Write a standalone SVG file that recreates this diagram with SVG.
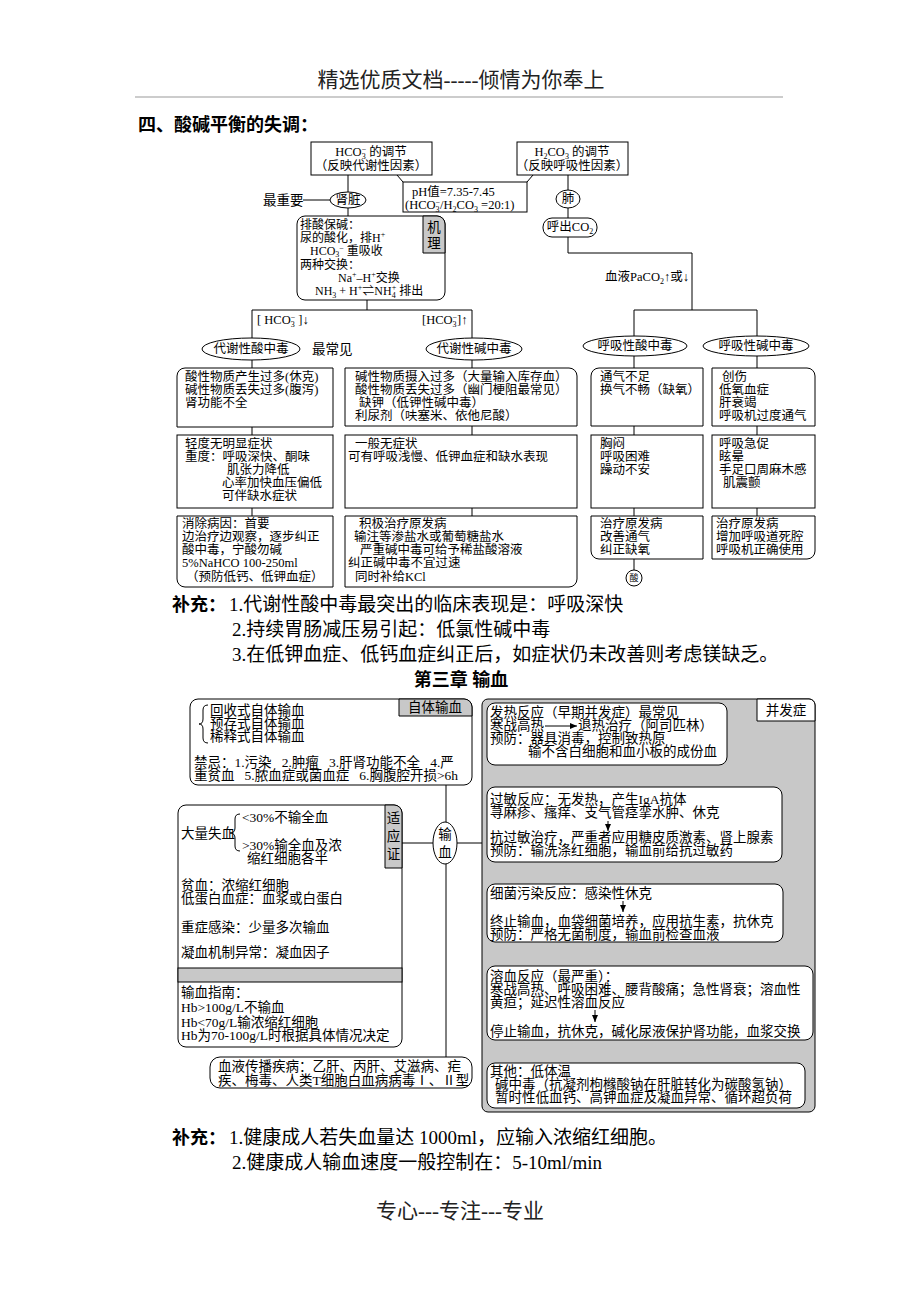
<svg xmlns="http://www.w3.org/2000/svg" width="920" height="1302" viewBox="0 0 920 1302">
<style>
text{font-family:"Liberation Serif","Noto Sans CJK SC",serif;fill:#000}
.t{font-size:12.5px}
.k{font-size:12px}
.m{font-size:13.5px}
.c{text-anchor:middle}
.s{font-size:8px}
.bx{fill:#fff;stroke:#000;stroke-width:1}
.g{fill:#c8c8c8;stroke:#000;stroke-width:1}
.ln{stroke:#000;stroke-width:1;fill:none}
.big{font-size:18px}
.sup{font-size:19px}
</style>
<defs>
<marker id="ah" markerWidth="8" markerHeight="8" refX="7" refY="4" orient="auto" markerUnits="userSpaceOnUse">
<path d="M0,1 L7,4 L0,7 Z" fill="#000"/>
</marker>
</defs>
<rect width="920" height="1302" fill="#fff"/>
<g id="header">
<text x="461" y="87" class="c" font-size="21" style="fill:#222">精选优质文档-----倾情为你奉上</text>
<line x1="135" y1="97" x2="783" y2="97" stroke="#999" stroke-width="1"/>
<text x="138" y="131" class="big" font-weight="bold">四、酸碱平衡的失调：</text>
</g>
<g id="connectors">
<line class="ln" x1="397" y1="175" x2="403" y2="182"/>
<line class="ln" x1="533" y1="175" x2="527" y2="182"/>
<line class="ln" x1="348" y1="175" x2="348" y2="192"/>
<line class="ln" x1="303" y1="200" x2="330" y2="200"/>
<line class="ln" x1="348" y1="208" x2="348" y2="216"/>
<line class="ln" x1="367" y1="300" x2="367" y2="310"/>
<path class="ln" d="M252,338 V310 H472 V338"/>
<line class="ln" x1="252" y1="360" x2="252" y2="368"/>
<line class="ln" x1="252" y1="427" x2="252" y2="435"/>
<line class="ln" x1="252" y1="508" x2="252" y2="516"/>
<line class="ln" x1="472" y1="360" x2="472" y2="368"/>
<line class="ln" x1="472" y1="426" x2="472" y2="435"/>
<line class="ln" x1="472" y1="508" x2="472" y2="516"/>
<line class="ln" x1="568" y1="175" x2="568" y2="190"/>
<line class="ln" x1="568" y1="208" x2="568" y2="218"/>
<path class="ln" d="M568,237 V253 H692 V310"/>
<path class="ln" d="M634,336 V310 H757 V336"/>
<line class="ln" x1="634" y1="356" x2="634" y2="368"/>
<line class="ln" x1="634" y1="426" x2="634" y2="435"/>
<line class="ln" x1="634" y1="508" x2="634" y2="516"/>
<line class="ln" x1="634" y1="559" x2="634" y2="570"/>
<line class="ln" x1="757" y1="356" x2="757" y2="368"/>
<line class="ln" x1="757" y1="426" x2="757" y2="435"/>
<line class="ln" x1="757" y1="508" x2="757" y2="516"/>
<line class="ln" x1="446" y1="785" x2="446" y2="822"/>
<line class="ln" x1="446" y1="864" x2="446" y2="1057"/>
<line class="ln" x1="402" y1="843" x2="433" y2="843"/>
<line class="ln" x1="457" y1="843" x2="482" y2="843"/>
</g>
<g id="hco3-reg">
<rect class="bx" x="311" y="142" width="121" height="33"/>
<text x="371" y="156" class="t c">HCO<tspan class="s" dy="3">3</tspan><tspan class="s" dx="-4" dy="-7">−</tspan><tspan dy="4"> 的调节</tspan></text>
<text x="371" y="170" class="t c">（反映代谢性因素）</text>
</g>
<g id="h2co3-reg">
<rect class="bx" x="517" y="142" width="111" height="33"/>
<text x="572" y="156" class="t c">H<tspan class="s" dy="3">2</tspan><tspan dy="-3">CO</tspan><tspan class="s" dy="3">3</tspan><tspan dy="-3"> 的调节</tspan></text>
<text x="572" y="170" class="t c">（反映呼吸性因素）</text>
</g>
<g id="ph">
<rect class="bx" x="403" y="182" width="124" height="30"/>
<text x="412" y="196" class="t">pH值=7.35-7.45</text>
<text x="405" y="209" class="t">(HCO<tspan class="s" dy="3">3</tspan><tspan class="s" dx="-4" dy="-7">−</tspan><tspan dy="4">/H</tspan><tspan class="s" dy="3">2</tspan><tspan dy="-3">CO</tspan><tspan class="s" dy="3">3</tspan><tspan dy="-3"> =20:1)</tspan></text>
</g>
<g id="kidney">
<text x="263" y="205" class="m">最重要</text>
<ellipse class="bx" cx="348" cy="200" rx="18" ry="8"/>
<text x="348" y="204" class="t c">肾脏</text>
</g>
<g id="mechanism">
<rect class="bx" x="297" y="216" width="148" height="84" rx="8"/>
<path class="g" d="M423,216 H437 A8,8 0 0 1 445,224 V253 H423 Z"/>
<text x="434" y="232" class="m c">机</text>
<text x="434" y="248" class="m c">理</text>
<text x="300" y="229" class="k">排酸保碱：</text>
<text x="300" y="242" class="k">尿的酸化，排H<tspan class="s" dy="-5">+</tspan></text>
<text x="310" y="255" class="k">HCO<tspan class="s" dy="2">3</tspan><tspan class="s" dx="0" dy="-6">−</tspan><tspan dy="4"> 重吸收</tspan></text>
<text x="300" y="269" class="k">两种交换：</text>
<text x="338" y="282" class="k">Na<tspan class="s" dy="-5">+</tspan><tspan dy="5">–H</tspan><tspan class="s" dy="-5">+</tspan><tspan dy="5">交换</tspan></text>
<text x="315" y="295" class="k">NH<tspan class="s" dy="3">3</tspan><tspan dy="-3"> + H</tspan><tspan class="s" dy="-5">+</tspan><tspan dy="5">⇌NH</tspan><tspan class="s" dy="3">4</tspan><tspan class="s" dx="-4" dy="-8">+</tspan><tspan dy="5">  排出</tspan></text>
</g>
<g id="labels-top">
<text x="257" y="324" class="t" xml:space="preserve">[ HCO<tspan class="s" dy="3">3</tspan><tspan class="s" dx="-4" dy="-7">−</tspan><tspan dy="4"> ]↓</tspan></text>
<text x="422" y="324" class="t">[HCO<tspan class="s" dy="3">3</tspan><tspan class="s" dx="-4" dy="-7">−</tspan><tspan dy="4">]↑</tspan></text>
<text x="312" y="354" class="m">最常见</text>
<text x="689" y="281" class="t" text-anchor="end">血液PaCO<tspan class="s" dy="3">2</tspan><tspan dy="-3">↑或↓</tspan></text>
</g>
<g id="met-acid">
<ellipse class="bx" cx="251" cy="349" rx="49" ry="11"/>
<text x="251" y="353" class="t c">代谢性酸中毒</text>
</g>
<g id="met-alk">
<ellipse class="bx" cx="474" cy="349" rx="48" ry="11"/>
<text x="474" y="353" class="t c">代谢性碱中毒</text>
</g>
<g id="lung">
<ellipse class="bx" cx="568" cy="199" rx="12" ry="9"/>
<text x="568" y="203" class="t c">肺</text>
<rect class="bx" x="543" y="218" width="54" height="19" rx="9"/>
<text x="570" y="231" class="t c">呼出CO<tspan class="s" dy="3">2</tspan></text>
</g>
<g id="resp-acid">
<ellipse class="bx" cx="635" cy="346" rx="52" ry="10"/>
<text x="635" y="350" class="t c">呼吸性酸中毒</text>
</g>
<g id="resp-alk">
<ellipse class="bx" cx="756" cy="346" rx="53" ry="10"/>
<text x="756" y="350" class="t c">呼吸性碱中毒</text>
</g>
<g id="a1">
<path class="bx" d="M177,376 A8,8 0 0 1 185,368 H333 V427 H177 Z"/>
<text x="185" y="381" class="t">酸性物质产生过多(休克)</text>
<text x="185" y="394" class="t">碱性物质丢失过多(腹泻)</text>
<text x="185" y="407" class="t">肾功能不全</text>
</g>
<g id="a2">
<rect class="bx" x="177" y="435" width="156" height="73"/>
<text x="185" y="448" class="t">轻度无明显症状</text>
<text x="185" y="461" class="t">重度：呼吸深快、酮味</text>
<text x="227" y="474" class="t">肌张力降低</text>
<text x="222" y="487" class="t">心率加快血压偏低</text>
<text x="222" y="500" class="t">可伴缺水症状</text>
</g>
<g id="a3">
<path class="bx" d="M177,516 H333 V587 H185 A8,8 0 0 1 177,579 Z"/>
<text x="182" y="528" class="t">消除病因：首要</text>
<text x="182" y="541" class="t">边治疗边观察，逐步纠正</text>
<text x="182" y="554" class="t">酸中毒，宁酸勿碱</text>
<text x="182" y="567" class="t">5%NaHCO 100-250ml</text>
<text x="186" y="581" class="t">（预防低钙、低钾血症）</text>
</g>
<g id="b1">
<path class="bx" d="M345,368 H569 A8,8 0 0 1 577,376 V426 H345 Z"/>
<text x="355" y="381" class="t">碱性物质摄入过多（大量输入库存血）</text>
<text x="355" y="394" class="t">酸性物质丢失过多（幽门梗阻最常见）</text>
<text x="359" y="407" class="t">缺钾（低钾性碱中毒）</text>
<text x="355" y="420" class="t">利尿剂（呋塞米、依他尼酸）</text>
</g>
<g id="b2">
<rect class="bx" x="345" y="435" width="232" height="73"/>
<text x="355" y="448" class="t">一般无症状</text>
<text x="348" y="461" class="t">可有呼吸浅慢、低钾血症和缺水表现</text>
</g>
<g id="b3">
<path class="bx" d="M345,516 H577 V579 A8,8 0 0 1 569,587 H345 Z"/>
<text x="359" y="528" class="t">积极治疗原发病</text>
<text x="354" y="541" class="t">输注等渗盐水或葡萄糖盐水</text>
<text x="360" y="554" class="t">严重碱中毒可给予稀盐酸溶液</text>
<text x="348" y="567" class="t">纠正碱中毒不宜过速</text>
<text x="355" y="581" class="t">同时补给KCl</text>
</g>
<g id="c1">
<path class="bx" d="M591,376 A8,8 0 0 1 599,368 H703 V426 H591 Z"/>
<text x="600" y="381" class="t">通气不足</text>
<text x="600" y="394" class="t">换气不畅（缺氧）</text>
</g>
<g id="c2">
<rect class="bx" x="591" y="435" width="112" height="73"/>
<text x="600" y="448" class="t">胸闷</text>
<text x="600" y="461" class="t">呼吸困难</text>
<text x="600" y="474" class="t">躁动不安</text>
</g>
<g id="c3">
<path class="bx" d="M591,516 H703 V559 H599 A8,8 0 0 1 591,551 Z"/>
<text x="600" y="528" class="t">治疗原发病</text>
<text x="600" y="541" class="t">改善通气</text>
<text x="600" y="554" class="t">纠正缺氧</text>
</g>
<g id="acid-mark">
<circle class="bx" cx="634" cy="578" r="8"/>
<text x="634" y="581" class="c" font-size="9">酸</text>
</g>
<g id="d1">
<path class="bx" d="M712,368 H807 A8,8 0 0 1 815,376 V426 H712 Z"/>
<text x="722" y="381" class="t">创伤</text>
<text x="719" y="394" class="t">低氧血症</text>
<text x="719" y="407" class="t">肝衰竭</text>
<text x="719" y="420" class="t">呼吸机过度通气</text>
</g>
<g id="d2">
<rect class="bx" x="712" y="435" width="103" height="73"/>
<text x="719" y="448" class="t">呼吸急促</text>
<text x="719" y="461" class="t">眩晕</text>
<text x="719" y="474" class="t">手足口周麻木感</text>
<text x="723" y="487" class="t">肌震颤</text>
</g>
<g id="d3">
<path class="bx" d="M712,516 H815 V551 A8,8 0 0 1 807,559 H712 Z"/>
<text x="716" y="528" class="t">治疗原发病</text>
<text x="716" y="541" class="t">增加呼吸道死腔</text>
<text x="716" y="554" class="t">呼吸机正确使用</text>
</g>
<g id="supplement1">
<text x="172" y="611" class="big" font-weight="bold">补充：</text>
<text x="229" y="611" class="sup">1.代谢性酸中毒最突出的临床表现是：呼吸深快</text>
<text x="232" y="636" class="sup">2.持续胃肠减压易引起：低氯性碱中毒</text>
<text x="232" y="661" class="sup">3.在低钾血症、低钙血症纠正后，如症状仍未改善则考虑镁缺乏。</text>
<text x="461" y="686" class="big c" font-weight="bold">第三章 输血</text>
</g>
<g id="autologous">
<rect class="bx" x="190" y="699" width="282" height="86" rx="8"/>
<path class="g" d="M399,699 H464 A8,8 0 0 1 472,707 V716 H399 Z"/>
<text x="435" y="712" class="m c">自体输血</text>
<path class="ln" d="M208,705 Q203,705 203,710 V719 Q203,724 199,724 Q203,724 203,729 V738 Q203,743 208,743"/>
<text x="210" y="715" class="m">回收式自体输血</text>
<text x="210" y="728" class="m">预存式自体输血</text>
<text x="210" y="741" class="m">稀释式自体输血</text>
<text x="194" y="767" class="m" xml:space="preserve">禁忌：1.污染   2.肿瘤   3.肝肾功能不全   4.严</text>
<text x="194" y="780" class="m" xml:space="preserve">重贫血   5.脓血症或菌血症   6.胸腹腔开损&gt;6h</text>
</g>
<g id="indication">
<rect class="bx" x="178" y="805" width="224" height="242" rx="8"/>
<path class="g" d="M385,805 H394 A8,8 0 0 1 402,813 V868 H385 Z"/>
<text x="393.5" y="823" class="m c">适</text>
<text x="393.5" y="841" class="m c">应</text>
<text x="393.5" y="859" class="m c">证</text>
<text x="181" y="838" class="m">大量失血</text>
<path class="ln" d="M240,814 Q235,814 235,819 V828 Q235,833 230,833 Q235,833 235,838 V846 Q235,851 240,851"/>
<text x="242" y="822" class="m">&lt;30%不输全血</text>
<text x="242" y="850" class="m">&gt;30%输全血及浓</text>
<text x="247" y="863" class="m">缩红细胞各半</text>
<text x="181" y="890" class="m">贫血：浓缩红细胞</text>
<text x="181" y="903" class="m">低蛋白血症：血浆或白蛋白</text>
<text x="181" y="932" class="m">重症感染：少量多次输血</text>
<text x="181" y="957" class="m">凝血机制异常：凝血因子</text>
<rect class="g" x="178" y="968" width="224" height="14"/>
<text x="181" y="997" class="m">输血指南：</text>
<text x="181" y="1012" class="m">Hb&gt;100g/L不输血</text>
<text x="181" y="1027" class="m">Hb&lt;70g/L输浓缩红细胞</text>
<text x="181" y="1040" class="m">Hb为70-100g/L时根据具体情况决定</text>
</g>
<g id="transfusion">
<ellipse class="bx" cx="445" cy="843" rx="12" ry="21"/>
<text x="445" y="839" class="m c">输</text>
<text x="445" y="857" class="m c">血</text>
</g>
<g id="blood-borne">
<rect class="bx" x="210" y="1057" width="262" height="31" rx="10"/>
<text x="218" y="1071" class="m">血液传播疾病：乙肝、丙肝、艾滋病、疟</text>
<text x="218" y="1085" class="m">疾、梅毒、人类T细胞白血病病毒Ⅰ、Ⅱ型</text>
</g>
<g id="complications">
<rect class="g" x="482" y="699" width="333" height="413" rx="6"/>
<path class="bx" d="M757,699 H809 A6,6 0 0 1 815,705 V721 H757 Z"/>
<text x="786" y="715" class="m c">并发症</text>
</g>
<g id="fever">
<rect class="bx" x="487" y="703" width="240" height="62" rx="8"/>
<text x="490" y="717" class="m">发热反应（早期并发症）最常见</text>
<text x="490" y="730" class="m">寒战高热</text>
<line class="ln" x1="545" y1="726" x2="577" y2="726" marker-end="url(#ah)"/>
<text x="578" y="730" class="m">退热治疗（阿司匹林）</text>
<text x="490" y="743" class="m">预防：器具消毒，控制致热原</text>
<text x="528" y="756" class="m">输不含白细胞和血小板的成份血</text>
</g>
<g id="allergy">
<rect class="bx" x="487" y="787" width="295" height="75" rx="8"/>
<text x="490" y="804" class="m">过敏反应：无发热，产生IgA抗体</text>
<text x="490" y="817" class="m">荨麻疹、瘙痒、支气管痉挛水肿、休克</text>
<line class="ln" x1="608" y1="821" x2="608" y2="831" marker-end="url(#ah)"/>
<text x="490" y="842" class="m">抗过敏治疗，严重者应用糖皮质激素、肾上腺素</text>
<text x="490" y="855" class="m">预防：输洗涤红细胞，输血前给抗过敏药</text>
</g>
<g id="bacterial">
<rect class="bx" x="487" y="884" width="296" height="58" rx="8"/>
<text x="490" y="898" class="m">细菌污染反应：感染性休克</text>
<line class="ln" x1="623" y1="901" x2="623" y2="912" marker-end="url(#ah)"/>
<text x="490" y="926" class="m">终止输血，血袋细菌培养，应用抗生素，抗休克</text>
<text x="490" y="939" class="m">预防：严格无菌制度，输血前检查血液</text>
</g>
<g id="hemolysis">
<rect class="bx" x="487" y="966" width="326" height="74" rx="8"/>
<text x="490" y="981" class="m">溶血反应（最严重）：</text>
<text x="490" y="994" class="m">寒战高热、呼吸困难、腰背酸痛；急性肾衰；溶血性</text>
<text x="490" y="1007" class="m">黄疸；延迟性溶血反应</text>
<line class="ln" x1="595" y1="1010" x2="595" y2="1022" marker-end="url(#ah)"/>
<text x="490" y="1036" class="m">停止输血，抗休克，碱化尿液保护肾功能，血浆交换</text>
</g>
<g id="other">
<rect class="bx" x="487" y="1063" width="318" height="45" rx="8"/>
<text x="490" y="1076" class="m">其他：低体温</text>
<text x="495" y="1089" class="m">碱中毒（抗凝剂枸橼酸钠在肝脏转化为碳酸氢钠）</text>
<text x="495" y="1102" class="m">暂时性低血钙、高钾血症及凝血异常、循环超负荷</text>
</g>
<g id="supplement2">
<text x="172" y="1144" class="big" font-weight="bold">补充：</text>
<text x="229" y="1144" class="sup">1.健康成人若失血量达 1000ml，应输入浓缩红细胞。</text>
<text x="232" y="1169" class="sup">2.健康成人输血速度一般控制在：5-10ml/min</text>
</g>
<g id="footer">
<text x="460" y="1218" class="c" font-size="21" style="fill:#222">专心---专注---专业</text>
</g>
</svg>
